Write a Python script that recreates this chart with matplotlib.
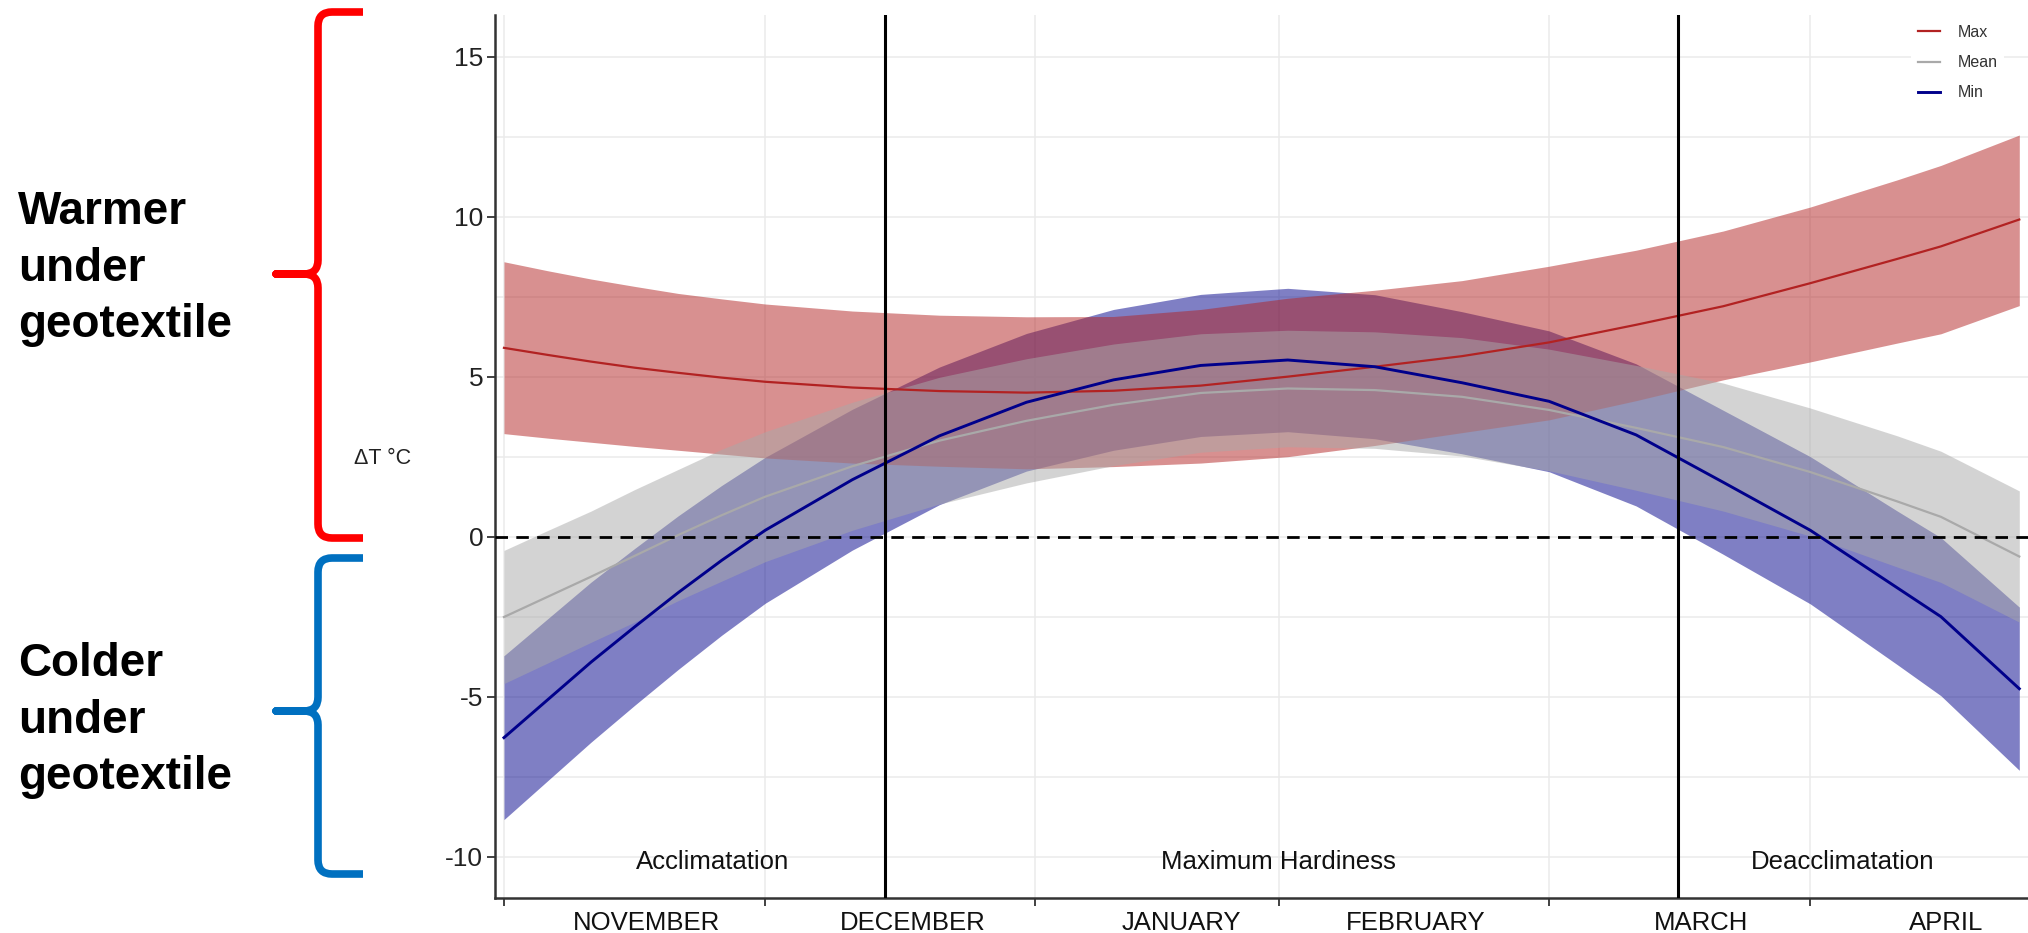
import numpy as np
import matplotlib.pyplot as plt
from matplotlib.path import Path
from matplotlib.patches import PathPatch

plt.rcParams['font.family'] = ['Liberation Sans', 'DejaVu Sans']
plt.rcParams['axes.unicode_minus'] = False

# --- Fitted seasonal curves (days since 1 November) ---
days = [0, 5, 10, 15, 20, 25, 30, 40, 50, 60, 70, 80, 90, 100, 110, 120, 130, 140, 150, 160, 165, 174]

max_mid = [5.90, 5.68, 5.47, 5.28, 5.12, 4.97, 4.84, 4.66, 4.55, 4.50, 4.56, 4.72, 5.00, 5.31, 5.64, 6.07, 6.62, 7.20, 7.92, 8.68, 9.07, 9.91]
max_hi = [8.59, 8.31, 8.05, 7.82, 7.60, 7.43, 7.27, 7.05, 6.92, 6.87, 6.88, 7.10, 7.45, 7.70, 8.00, 8.45, 8.95, 9.55, 10.30, 11.15, 11.60, 12.55]
max_lo = [3.22, 3.08, 2.95, 2.82, 2.70, 2.58, 2.46, 2.30, 2.20, 2.12, 2.19, 2.30, 2.50, 2.85, 3.25, 3.65, 4.25, 4.90, 5.46, 6.05, 6.34, 7.22]

mean_mid = [-2.51, -1.88, -1.25, -0.60, 0.05, 0.67, 1.25, 2.20, 3.00, 3.62, 4.12, 4.49, 4.63, 4.58, 4.37, 3.96, 3.40, 2.80, 2.02, 1.10, 0.62, -0.62]
mean_hi = [-0.43, 0.19, 0.80, 1.47, 2.10, 2.73, 3.28, 4.20, 4.98, 5.56, 6.02, 6.34, 6.45, 6.40, 6.22, 5.86, 5.35, 4.80, 4.02, 3.15, 2.67, 1.43]
mean_lo = [-4.59, -3.95, -3.30, -2.67, -2.00, -1.39, -0.78, 0.20, 1.02, 1.68, 2.22, 2.64, 2.81, 2.76, 2.52, 2.06, 1.45, 0.80, 0.02, -0.95, -1.43, -2.67]

min_mid = [-6.28, -5.10, -3.92, -2.82, -1.75, -0.74, 0.20, 1.78, 3.15, 4.20, 4.90, 5.35, 5.52, 5.31, 4.81, 4.23, 3.18, 1.70, 0.20, -1.60, -2.50, -4.75]
min_hi = [-3.72, -2.57, -1.42, -0.37, 0.65, 1.60, 2.48, 3.98, 5.30, 6.35, 7.10, 7.57, 7.76, 7.56, 7.03, 6.43, 5.40, 3.95, 2.50, 0.80, -0.03, -2.20]
min_lo = [-8.84, -7.63, -6.42, -5.27, -4.15, -3.08, -2.08, -0.42, 1.00, 2.05, 2.70, 3.13, 3.28, 3.06, 2.59, 2.03, 0.96, -0.55, -2.10, -4.00, -4.97, -7.30]

# --- Axis labelling ---
tick_days = [0, 30, 61, 89, 120, 150]
month_days = [16.4, 46.9, 77.8, 104.7, 137.5, 165.6]
months = ['NOVEMBER', 'DECEMBER', 'JANUARY', 'FEBRUARY', 'MARCH', 'APRIL']
phase_breaks = [43.8, 134.8]
phase_days = [23.9, 88.9, 153.7]
phases = ['Acclimatation', 'Maximum Hardiness', 'Deacclimatation']
y_ticks = [-10, -5, 0, 5, 10, 15]

RED, GREY, BLUE = '#B22222', '#A9A9A9', '#00008B'

W, H = 2028, 933
fig = plt.figure(figsize=(W / 100, H / 100), dpi=100)
ax = fig.add_axes([495 / W, 1 - 898 / H, 1 - 495 / W, (898 - 15) / H])

# ribbons: min underneath, then max, mean on top
ax.fill_between(days, min_lo, min_hi, color=BLUE, alpha=0.5, lw=0, zorder=2)
ax.fill_between(days, max_lo, max_hi, color=RED, alpha=0.5, lw=0, zorder=2)
ax.fill_between(days, mean_lo, mean_hi, color=GREY, alpha=0.5, lw=0, zorder=2)

ax.plot(days, max_mid, color=RED, lw=1.6, label='Max', zorder=4)
ax.plot(days, mean_mid, color=GREY, lw=1.6, label='Mean', zorder=4)
ax.plot(days, min_mid, color=BLUE, lw=2.1, label='Min', zorder=4)

for d in phase_breaks:
    ax.axvline(d, color='black', lw=2.2, zorder=5)
ax.axhline(0, color='black', lw=2.0, ls=(0, (4.5, 3)), zorder=5)

for d, name in zip(phase_days, phases):
    ax.text(d, -10.15, name, ha='center', va='center', fontsize=18.5, color='#111111', zorder=6)

# --- Axes styling ---
ax.set_xlim(-1.03, 175.0)
ax.set_ylim(-11.29, 16.3)

ax.set_yticks(y_ticks)
ax.set_yticklabels([str(v) for v in y_ticks])
ax.set_yticks([-7.5, -2.5, 2.5, 7.5, 12.5], minor=True)
ax.set_xticks(tick_days)
ax.set_xticklabels([''] * len(tick_days))
ax.set_xticks(month_days, minor=True)
ax.set_xticklabels(months, minor=True)

ax.tick_params(which='major', length=5.5, width=1.3, color='#333333')
ax.tick_params(axis='y', which='major', labelsize=19, pad=3, labelcolor='#222222')
ax.tick_params(axis='y', which='minor', length=0)
ax.tick_params(axis='x', which='minor', length=0, pad=9, labelsize=18.5, labelcolor='#111111')

ax.yaxis.grid(True, which='both', color='#EBEBEB', lw=1.1)
ax.xaxis.grid(True, which='major', color='#EBEBEB', lw=1.1)
ax.set_axisbelow(True)

for side in ['top', 'right']:
    ax.spines[side].set_visible(False)
for side in ['left', 'bottom']:
    ax.spines[side].set_color('#333333')
    ax.spines[side].set_linewidth(1.8)

leg = ax.legend(loc='upper left', bbox_to_anchor=(0.924, 0.996), frameon=True,
                framealpha=1, facecolor='white', edgecolor='none', fontsize=11.5,
                handlelength=1.4, handletextpad=1.1, labelspacing=0.95,
                borderpad=0.4, borderaxespad=0)
for t in leg.get_texts():
    t.set_color('#333333')

fig.text(383 / W, 1 - 459 / H, 'ΔT °C', ha='center', va='center', fontsize=15.5, color='#222222')

# --- Braces and side notes (pixel coordinates) ---
ov = fig.add_axes([0, 0, 1, 1])
ov.set_xlim(0, W)
ov.set_ylim(H, 0)
ov.axis('off')


def brace(top, bottom, tip, color):
    bar, end, point = 318, 363, 276
    verts = [(end, top), (bar + 14, top), (bar, top), (bar, top + 14),
             (bar, tip - 14), (bar, tip), (bar - 14, tip), (point, tip),
             (bar - 14, tip), (bar, tip), (bar, tip + 14),
             (bar, bottom - 14), (bar, bottom), (bar + 14, bottom), (end, bottom)]
    codes = [Path.MOVETO, Path.LINETO, Path.CURVE3, Path.CURVE3,
             Path.LINETO, Path.CURVE3, Path.CURVE3, Path.LINETO,
             Path.LINETO, Path.CURVE3, Path.CURVE3,
             Path.LINETO, Path.CURVE3, Path.CURVE3, Path.LINETO]
    ov.add_patch(PathPatch(Path(verts, codes), fill=False, edgecolor=color,
                           lw=5.5, capstyle='butt', joinstyle='round'))


brace(12, 538, 274, '#FF0000')
brace(558, 874, 711, '#0070C0')

warm_lines = [('Warmer', 224), ('under', 281), ('geotextile', 337)]
cold_lines = [('Colder', 676), ('under', 733), ('geotextile', 789)]
for word, base in warm_lines + cold_lines:
    fig.text(18 / W, 1 - base / H, word, fontsize=33, fontweight='bold', va='baseline', color='black')

fig.savefig('out.png', dpi=100)
